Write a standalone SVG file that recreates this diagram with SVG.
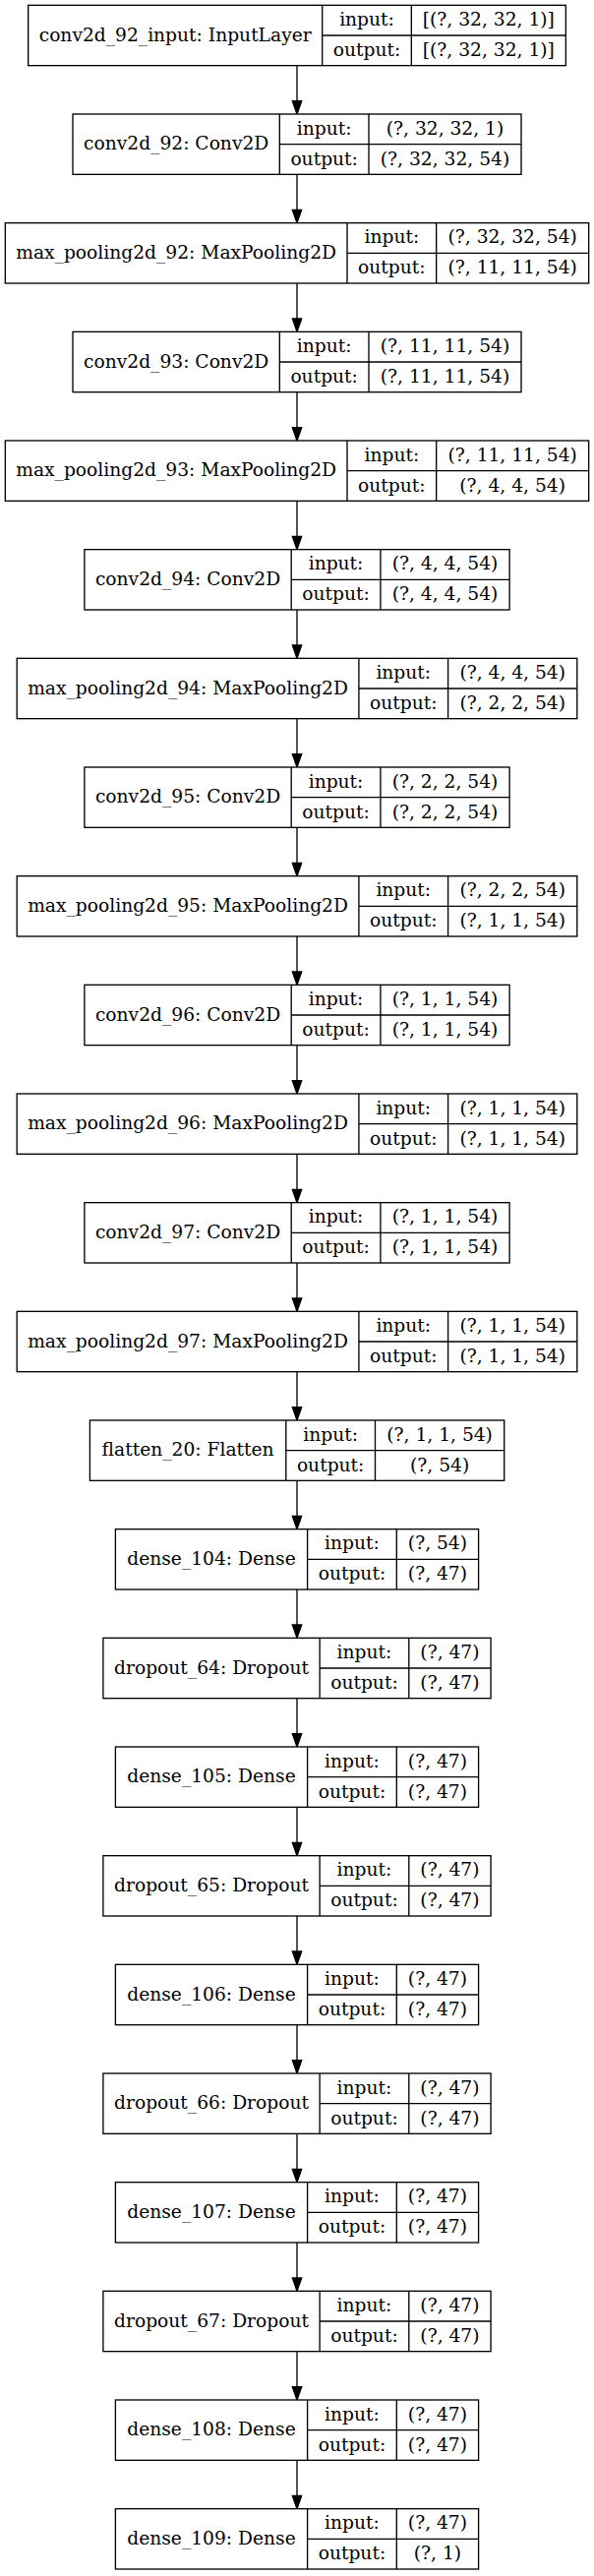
<svg xmlns="http://www.w3.org/2000/svg" width="604" height="2619" viewBox="0 0 604 2619">
<style>
.b{fill:#fff;stroke:#000;stroke-width:1.33}
.l{fill:none;stroke:#000;stroke-width:1.33}
.t{font-family:"DejaVu Serif","Liberation Serif",serif;font-size:18.67px;text-anchor:middle;fill:#000}
.e{stroke:#000;stroke-width:1.33;marker-end:url(#ah)}
</style>
<defs>
<marker id="ah" viewBox="0 0 13.33 9.33" markerWidth="13.33" markerHeight="9.33" refX="0" refY="4.67" orient="auto" markerUnits="userSpaceOnUse" overflow="visible">
<path d="M0,0L13.33,4.67L0,9.33z" fill="#000" stroke="#000" stroke-width="1.33"/>
</marker>
</defs>
<rect width="604" height="2619" fill="#fff"/>
<g id="connectors">
<line class="e" x1="302" y1="66.67" x2="302" y2="102.67"/>
<line class="e" x1="302" y1="177.33" x2="302" y2="213.33"/>
<line class="e" x1="302" y1="288" x2="302" y2="324"/>
<line class="e" x1="302" y1="398.67" x2="302" y2="434.67"/>
<line class="e" x1="302" y1="509.33" x2="302" y2="545.33"/>
<line class="e" x1="302" y1="620" x2="302" y2="656"/>
<line class="e" x1="302" y1="730.67" x2="302" y2="766.67"/>
<line class="e" x1="302" y1="841.33" x2="302" y2="877.33"/>
<line class="e" x1="302" y1="952" x2="302" y2="988"/>
<line class="e" x1="302" y1="1062.67" x2="302" y2="1098.67"/>
<line class="e" x1="302" y1="1173.33" x2="302" y2="1209.33"/>
<line class="e" x1="302" y1="1284" x2="302" y2="1320"/>
<line class="e" x1="302" y1="1394.67" x2="302" y2="1430.67"/>
<line class="e" x1="302" y1="1505.33" x2="302" y2="1541.33"/>
<line class="e" x1="302" y1="1616" x2="302" y2="1652"/>
<line class="e" x1="302" y1="1726.67" x2="302" y2="1762.67"/>
<line class="e" x1="302" y1="1837.33" x2="302" y2="1873.33"/>
<line class="e" x1="302" y1="1948" x2="302" y2="1984"/>
<line class="e" x1="302" y1="2058.67" x2="302" y2="2094.67"/>
<line class="e" x1="302" y1="2169.33" x2="302" y2="2205.33"/>
<line class="e" x1="302" y1="2280" x2="302" y2="2316"/>
<line class="e" x1="302" y1="2390.67" x2="302" y2="2426.67"/>
<line class="e" x1="302" y1="2501.33" x2="302" y2="2537.33"/>
</g>

<g id="conv2d_92_input" transform="translate(0,5.33)">
<rect class="b" x="28.67" y="0" width="546.67" height="61.33"/>
<path class="l" d="M327.67,0V61.33M418.33,0V61.33M327.67,30.67H575.33"/>
<text class="t" x="178.17" y="36.3">conv2d_92_input: InputLayer</text>
<text class="t" x="373" y="20.8">input:</text>
<text class="t" x="373" y="51.5">output:</text>
<text class="t" x="496.83" y="20.8">[(?, 32, 32, 1)]</text>
<text class="t" x="496.83" y="51.5">[(?, 32, 32, 1)]</text>
</g>

<g id="conv2d_92" transform="translate(0,116)">
<rect class="b" x="74" y="0" width="456" height="61.33"/>
<path class="l" d="M284.3,0V61.33M375,0V61.33M284.3,30.67H530"/>
<text class="t" x="179.15" y="36.3">conv2d_92: Conv2D</text>
<text class="t" x="329.65" y="20.8">input:</text>
<text class="t" x="329.65" y="51.5">output:</text>
<text class="t" x="452.5" y="20.8">(?, 32, 32, 1)</text>
<text class="t" x="452.5" y="51.5">(?, 32, 32, 54)</text>
</g>

<g id="max_pooling2d_92" transform="translate(0,226.67)">
<rect class="b" x="5.33" y="0" width="593.33" height="61.33"/>
<path class="l" d="M353,0V61.33M443.67,0V61.33M353,30.67H598.67"/>
<text class="t" x="179.17" y="36.3">max_pooling2d_92: MaxPooling2D</text>
<text class="t" x="398.33" y="20.8">input:</text>
<text class="t" x="398.33" y="51.5">output:</text>
<text class="t" x="521.17" y="20.8">(?, 32, 32, 54)</text>
<text class="t" x="521.17" y="51.5">(?, 11, 11, 54)</text>
</g>

<g id="conv2d_93" transform="translate(0,337.33)">
<rect class="b" x="74" y="0" width="456" height="61.33"/>
<path class="l" d="M284.3,0V61.33M375,0V61.33M284.3,30.67H530"/>
<text class="t" x="179.15" y="36.3">conv2d_93: Conv2D</text>
<text class="t" x="329.65" y="20.8">input:</text>
<text class="t" x="329.65" y="51.5">output:</text>
<text class="t" x="452.5" y="20.8">(?, 11, 11, 54)</text>
<text class="t" x="452.5" y="51.5">(?, 11, 11, 54)</text>
</g>

<g id="max_pooling2d_93" transform="translate(0,448)">
<rect class="b" x="5.33" y="0" width="593.33" height="61.33"/>
<path class="l" d="M353,0V61.33M443.67,0V61.33M353,30.67H598.67"/>
<text class="t" x="179.17" y="36.3">max_pooling2d_93: MaxPooling2D</text>
<text class="t" x="398.33" y="20.8">input:</text>
<text class="t" x="398.33" y="51.5">output:</text>
<text class="t" x="521.17" y="20.8">(?, 11, 11, 54)</text>
<text class="t" x="521.17" y="51.5">(?, 4, 4, 54)</text>
</g>

<g id="conv2d_94" transform="translate(0,558.67)">
<rect class="b" x="85.9" y="0" width="432.2" height="61.33"/>
<path class="l" d="M296.2,0V61.33M386.9,0V61.33M296.2,30.67H518.1"/>
<text class="t" x="191.05" y="36.3">conv2d_94: Conv2D</text>
<text class="t" x="341.55" y="20.8">input:</text>
<text class="t" x="341.55" y="51.5">output:</text>
<text class="t" x="452.5" y="20.8">(?, 4, 4, 54)</text>
<text class="t" x="452.5" y="51.5">(?, 4, 4, 54)</text>
</g>

<g id="max_pooling2d_94" transform="translate(0,669.33)">
<rect class="b" x="17.2" y="0" width="569.6" height="61.33"/>
<path class="l" d="M364.9,0V61.33M455.6,0V61.33M364.9,30.67H586.8"/>
<text class="t" x="191.05" y="36.3">max_pooling2d_94: MaxPooling2D</text>
<text class="t" x="410.25" y="20.8">input:</text>
<text class="t" x="410.25" y="51.5">output:</text>
<text class="t" x="521.2" y="20.8">(?, 4, 4, 54)</text>
<text class="t" x="521.2" y="51.5">(?, 2, 2, 54)</text>
</g>

<g id="conv2d_95" transform="translate(0,780)">
<rect class="b" x="85.9" y="0" width="432.2" height="61.33"/>
<path class="l" d="M296.2,0V61.33M386.9,0V61.33M296.2,30.67H518.1"/>
<text class="t" x="191.05" y="36.3">conv2d_95: Conv2D</text>
<text class="t" x="341.55" y="20.8">input:</text>
<text class="t" x="341.55" y="51.5">output:</text>
<text class="t" x="452.5" y="20.8">(?, 2, 2, 54)</text>
<text class="t" x="452.5" y="51.5">(?, 2, 2, 54)</text>
</g>

<g id="max_pooling2d_95" transform="translate(0,890.67)">
<rect class="b" x="17.2" y="0" width="569.6" height="61.33"/>
<path class="l" d="M364.9,0V61.33M455.6,0V61.33M364.9,30.67H586.8"/>
<text class="t" x="191.05" y="36.3">max_pooling2d_95: MaxPooling2D</text>
<text class="t" x="410.25" y="20.8">input:</text>
<text class="t" x="410.25" y="51.5">output:</text>
<text class="t" x="521.2" y="20.8">(?, 2, 2, 54)</text>
<text class="t" x="521.2" y="51.5">(?, 1, 1, 54)</text>
</g>

<g id="conv2d_96" transform="translate(0,1001.33)">
<rect class="b" x="85.9" y="0" width="432.2" height="61.33"/>
<path class="l" d="M296.2,0V61.33M386.9,0V61.33M296.2,30.67H518.1"/>
<text class="t" x="191.05" y="36.3">conv2d_96: Conv2D</text>
<text class="t" x="341.55" y="20.8">input:</text>
<text class="t" x="341.55" y="51.5">output:</text>
<text class="t" x="452.5" y="20.8">(?, 1, 1, 54)</text>
<text class="t" x="452.5" y="51.5">(?, 1, 1, 54)</text>
</g>

<g id="max_pooling2d_96" transform="translate(0,1112)">
<rect class="b" x="17.2" y="0" width="569.6" height="61.33"/>
<path class="l" d="M364.9,0V61.33M455.6,0V61.33M364.9,30.67H586.8"/>
<text class="t" x="191.05" y="36.3">max_pooling2d_96: MaxPooling2D</text>
<text class="t" x="410.25" y="20.8">input:</text>
<text class="t" x="410.25" y="51.5">output:</text>
<text class="t" x="521.2" y="20.8">(?, 1, 1, 54)</text>
<text class="t" x="521.2" y="51.5">(?, 1, 1, 54)</text>
</g>

<g id="conv2d_97" transform="translate(0,1222.67)">
<rect class="b" x="85.9" y="0" width="432.2" height="61.33"/>
<path class="l" d="M296.2,0V61.33M386.9,0V61.33M296.2,30.67H518.1"/>
<text class="t" x="191.05" y="36.3">conv2d_97: Conv2D</text>
<text class="t" x="341.55" y="20.8">input:</text>
<text class="t" x="341.55" y="51.5">output:</text>
<text class="t" x="452.5" y="20.8">(?, 1, 1, 54)</text>
<text class="t" x="452.5" y="51.5">(?, 1, 1, 54)</text>
</g>

<g id="max_pooling2d_97" transform="translate(0,1333.33)">
<rect class="b" x="17.2" y="0" width="569.6" height="61.33"/>
<path class="l" d="M364.9,0V61.33M455.6,0V61.33M364.9,30.67H586.8"/>
<text class="t" x="191.05" y="36.3">max_pooling2d_97: MaxPooling2D</text>
<text class="t" x="410.25" y="20.8">input:</text>
<text class="t" x="410.25" y="51.5">output:</text>
<text class="t" x="521.2" y="20.8">(?, 1, 1, 54)</text>
<text class="t" x="521.2" y="51.5">(?, 1, 1, 54)</text>
</g>

<g id="flatten_20" transform="translate(0,1444)">
<rect class="b" x="91.4" y="0" width="421.3" height="61.33"/>
<path class="l" d="M290.8,0V61.33M381.5,0V61.33M290.8,30.67H512.7"/>
<text class="t" x="191.1" y="36.3">flatten_20: Flatten</text>
<text class="t" x="336.15" y="20.8">input:</text>
<text class="t" x="336.15" y="51.5">output:</text>
<text class="t" x="447.1" y="20.8">(?, 1, 1, 54)</text>
<text class="t" x="447.1" y="51.5">(?, 54)</text>
</g>

<g id="dense_104" transform="translate(0,1554.67)">
<rect class="b" x="117.4" y="0" width="369.2" height="61.33"/>
<path class="l" d="M312.6,0V61.33M403.3,0V61.33M312.6,30.67H486.6"/>
<text class="t" x="215" y="36.3">dense_104: Dense</text>
<text class="t" x="357.95" y="20.8">input:</text>
<text class="t" x="357.95" y="51.5">output:</text>
<text class="t" x="444.95" y="20.8">(?, 54)</text>
<text class="t" x="444.95" y="51.5">(?, 47)</text>
</g>

<g id="dropout_64" transform="translate(0,1665.33)">
<rect class="b" x="104.9" y="0" width="394.2" height="61.33"/>
<path class="l" d="M325.1,0V61.33M415.8,0V61.33M325.1,30.67H499.1"/>
<text class="t" x="215" y="36.3">dropout_64: Dropout</text>
<text class="t" x="370.45" y="20.8">input:</text>
<text class="t" x="370.45" y="51.5">output:</text>
<text class="t" x="457.45" y="20.8">(?, 47)</text>
<text class="t" x="457.45" y="51.5">(?, 47)</text>
</g>

<g id="dense_105" transform="translate(0,1776)">
<rect class="b" x="117.4" y="0" width="369.2" height="61.33"/>
<path class="l" d="M312.6,0V61.33M403.3,0V61.33M312.6,30.67H486.6"/>
<text class="t" x="215" y="36.3">dense_105: Dense</text>
<text class="t" x="357.95" y="20.8">input:</text>
<text class="t" x="357.95" y="51.5">output:</text>
<text class="t" x="444.95" y="20.8">(?, 47)</text>
<text class="t" x="444.95" y="51.5">(?, 47)</text>
</g>

<g id="dropout_65" transform="translate(0,1886.67)">
<rect class="b" x="104.9" y="0" width="394.2" height="61.33"/>
<path class="l" d="M325.1,0V61.33M415.8,0V61.33M325.1,30.67H499.1"/>
<text class="t" x="215" y="36.3">dropout_65: Dropout</text>
<text class="t" x="370.45" y="20.8">input:</text>
<text class="t" x="370.45" y="51.5">output:</text>
<text class="t" x="457.45" y="20.8">(?, 47)</text>
<text class="t" x="457.45" y="51.5">(?, 47)</text>
</g>

<g id="dense_106" transform="translate(0,1997.33)">
<rect class="b" x="117.4" y="0" width="369.2" height="61.33"/>
<path class="l" d="M312.6,0V61.33M403.3,0V61.33M312.6,30.67H486.6"/>
<text class="t" x="215" y="36.3">dense_106: Dense</text>
<text class="t" x="357.95" y="20.8">input:</text>
<text class="t" x="357.95" y="51.5">output:</text>
<text class="t" x="444.95" y="20.8">(?, 47)</text>
<text class="t" x="444.95" y="51.5">(?, 47)</text>
</g>

<g id="dropout_66" transform="translate(0,2108)">
<rect class="b" x="104.9" y="0" width="394.2" height="61.33"/>
<path class="l" d="M325.1,0V61.33M415.8,0V61.33M325.1,30.67H499.1"/>
<text class="t" x="215" y="36.3">dropout_66: Dropout</text>
<text class="t" x="370.45" y="20.8">input:</text>
<text class="t" x="370.45" y="51.5">output:</text>
<text class="t" x="457.45" y="20.8">(?, 47)</text>
<text class="t" x="457.45" y="51.5">(?, 47)</text>
</g>

<g id="dense_107" transform="translate(0,2218.67)">
<rect class="b" x="117.4" y="0" width="369.2" height="61.33"/>
<path class="l" d="M312.6,0V61.33M403.3,0V61.33M312.6,30.67H486.6"/>
<text class="t" x="215" y="36.3">dense_107: Dense</text>
<text class="t" x="357.95" y="20.8">input:</text>
<text class="t" x="357.95" y="51.5">output:</text>
<text class="t" x="444.95" y="20.8">(?, 47)</text>
<text class="t" x="444.95" y="51.5">(?, 47)</text>
</g>

<g id="dropout_67" transform="translate(0,2329.33)">
<rect class="b" x="104.9" y="0" width="394.2" height="61.33"/>
<path class="l" d="M325.1,0V61.33M415.8,0V61.33M325.1,30.67H499.1"/>
<text class="t" x="215" y="36.3">dropout_67: Dropout</text>
<text class="t" x="370.45" y="20.8">input:</text>
<text class="t" x="370.45" y="51.5">output:</text>
<text class="t" x="457.45" y="20.8">(?, 47)</text>
<text class="t" x="457.45" y="51.5">(?, 47)</text>
</g>

<g id="dense_108" transform="translate(0,2440)">
<rect class="b" x="117.4" y="0" width="369.2" height="61.33"/>
<path class="l" d="M312.6,0V61.33M403.3,0V61.33M312.6,30.67H486.6"/>
<text class="t" x="215" y="36.3">dense_108: Dense</text>
<text class="t" x="357.95" y="20.8">input:</text>
<text class="t" x="357.95" y="51.5">output:</text>
<text class="t" x="444.95" y="20.8">(?, 47)</text>
<text class="t" x="444.95" y="51.5">(?, 47)</text>
</g>

<g id="dense_109" transform="translate(0,2550.67)">
<rect class="b" x="117.4" y="0" width="369.2" height="61.33"/>
<path class="l" d="M312.6,0V61.33M403.3,0V61.33M312.6,30.67H486.6"/>
<text class="t" x="215" y="36.3">dense_109: Dense</text>
<text class="t" x="357.95" y="20.8">input:</text>
<text class="t" x="357.95" y="51.5">output:</text>
<text class="t" x="444.95" y="20.8">(?, 47)</text>
<text class="t" x="444.95" y="51.5">(?, 1)</text>
</g>
</svg>
